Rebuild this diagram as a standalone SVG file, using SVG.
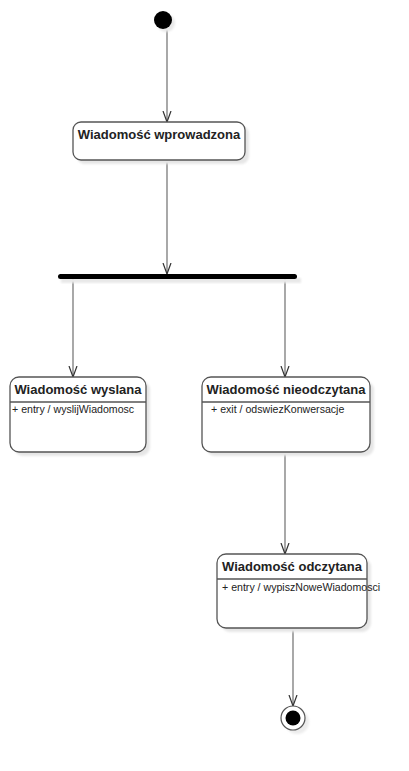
<svg xmlns="http://www.w3.org/2000/svg" width="409" height="771" viewBox="0 0 409 771">
<style>
.box{fill:#fff;stroke:#555;stroke-width:1.3}
.sh{fill:#e6e6e6;filter:url(#blur)}
.sep{stroke:#555;stroke-width:1.3}
.t{font-family:"Liberation Sans",Arial,sans-serif;font-weight:bold;font-size:13px;fill:#222;text-anchor:middle}
.a{font-family:"Liberation Sans",Arial,sans-serif;font-size:10.6px;fill:#222}
.c{stroke:#7a7a7a;stroke-width:1.3;fill:none;marker-end:url(#arr)}
</style>
<defs>
<filter id="blur" x="-10%" y="-10%" width="120%" height="120%"><feGaussianBlur stdDeviation="1.2"/></filter>
<marker id="arr" viewBox="0 0 12 12" refX="11" refY="6" markerWidth="12" markerHeight="12" markerUnits="userSpaceOnUse" orient="auto">
<path d="M0,2 L11,6 L0,10" fill="none" stroke="#333" stroke-width="1.2"/>
</marker>
</defs>
<rect width="409" height="771" fill="#fff"/>
<g id="connectors">
<line class="c" x1="167" y1="29" x2="167" y2="122"/>
<line class="c" x1="167" y1="160" x2="167" y2="274"/>
<line class="c" x1="73" y1="279" x2="73" y2="377"/>
<line class="c" x1="285" y1="279" x2="285" y2="377"/>
<line class="c" x1="285" y1="452" x2="285" y2="554"/>
<line class="c" x1="293" y1="628" x2="293" y2="706"/>
</g>
<g id="start">
<circle cx="166" cy="23" r="9" fill="#e8e8e8" filter="url(#blur)"/>
<circle cx="163" cy="20" r="9" fill="#000"/>
</g>
<g id="wprowadzona">
<rect class="sh" x="77" y="126" width="172" height="38" rx="8"/>
<rect class="box" x="73" y="122" width="172" height="38" rx="8"/>
<text class="t" x="159" y="139">Wiadomość wprowadzona</text>
</g>
<g id="fork">
<rect x="61" y="278" width="240" height="5" fill="#e8e8e8" filter="url(#blur)"/>
<rect x="58" y="274" width="239" height="5" rx="2.5" fill="#000"/>
</g>
<g id="wyslana">
<rect class="sh" x="14" y="381" width="136" height="75" rx="9"/>
<rect class="box" x="10" y="377" width="136" height="75" rx="9"/>
<line class="sep" x1="10" y1="402" x2="146" y2="402"/>
<text class="t" x="78" y="394">Wiadomość wyslana</text>
<text class="a" x="12" y="413">+ entry / wyslijWiadomosc</text>
</g>
<g id="nieodczytana">
<rect class="sh" x="206" y="381" width="168" height="75" rx="9"/>
<rect class="box" x="202" y="377" width="168" height="75" rx="9"/>
<line class="sep" x1="202" y1="402" x2="370" y2="402"/>
<text class="t" x="286" y="394">Wiadomość nieodczytana</text>
<text class="a" x="211" y="413">+ exit / odswiezKonwersacje</text>
</g>
<g id="odczytana">
<rect class="sh" x="221" y="558" width="150" height="74" rx="9"/>
<rect class="box" x="217" y="554" width="150" height="74" rx="9"/>
<line class="sep" x1="217" y1="579" x2="367" y2="579"/>
<text class="t" x="292" y="571">Wiadomość odczytana</text>
<text class="a" x="222" y="591">+ entry / wypiszNoweWiadomosci</text>
</g>
<g id="end">
<circle cx="297" cy="722" r="12" fill="#ececec" filter="url(#blur)"/>
<circle cx="293" cy="718" r="12" fill="#fff" stroke="#555" stroke-width="1.2"/>
<circle cx="293" cy="718" r="7.5" fill="#000"/>
</g>
</svg>
